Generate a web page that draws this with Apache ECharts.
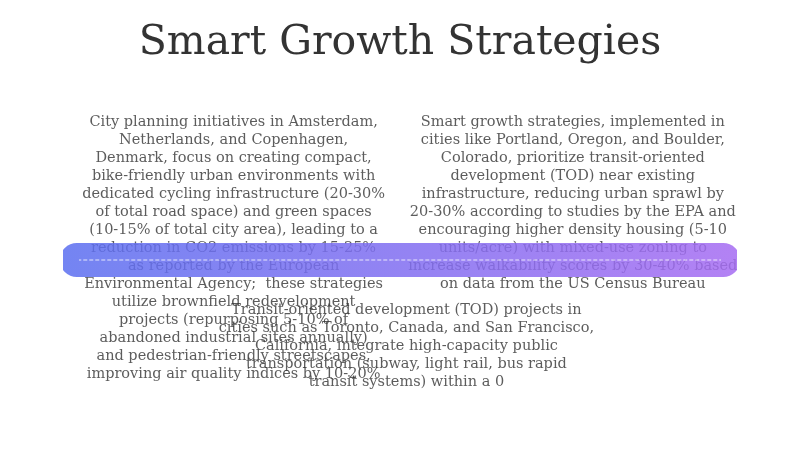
<!DOCTYPE html>
<html><head><meta charset="utf-8">
<script src="https://cdn.jsdelivr.net/npm/echarts@6/dist/echarts.min.js"></script>
<style>html,body{margin:0;padding:0;background:#fff}#c{width:800px;height:449px}</style>
</head><body><div id="c"></div>
<script>
const title = "Smart Growth Strategies";
const timelineRange = [0, 100];
const eventPositions = [24, 77, 51];
const eventSides = ["top", "top", "bottom"];
const eventTexts = [
"City planning initiatives in Amsterdam,\nNetherlands, and Copenhagen,\nDenmark, focus on creating compact,\nbike-friendly urban environments with\ndedicated cycling infrastructure (20-30%\nof total road space) and green spaces\n(10-15% of total city area), leading to a\nreduction in CO2 emissions by 15-25%\nas reported by the European\nEnvironmental Agency;  these strategies\nutilize brownfield redevelopment\nprojects (repurposing 5-10% of\nabandoned industrial sites annually)\nand pedestrian-friendly streetscapes,\nimproving air quality indices by 10-20%",
"Smart growth strategies, implemented in\ncities like Portland, Oregon, and Boulder,\nColorado, prioritize transit-oriented\ndevelopment (TOD) near existing\ninfrastructure, reducing urban sprawl by\n20-30% according to studies by the EPA and\nencouraging higher density housing (5-10\nunits/acre) with mixed-use zoning to\nincrease walkability scores by 30-40% based\non data from the US Census Bureau",
"Transit-oriented development (TOD) projects in\ncities such as Toronto, Canada, and San Francisco,\nCalifornia, integrate high-capacity public\ntransportation (subway, light rail, bus rapid\ntransit systems) within a 0"
];
const chart = echarts.init(document.getElementById('c'));
const font = "'DejaVu Serif', 'Liberation Serif', serif";
chart.setOption({
  title:{text:title,left:'center',top:18,textStyle:{fontFamily:font,fontWeight:'normal',fontSize:41,color:'#333'}},
  grid:{left:80,right:80,top:140,bottom:69},
  xAxis:{type:'value',min:timelineRange[0],max:timelineRange[1],show:false},
  yAxis:{type:'value',min:-1,max:1,show:false},
  series:[
    {type:'scatter',symbolSize:2,itemStyle:{color:'rgba(0,0,0,0)'},z:1,clip:false,
     data:eventPositions.map((x,i)=>({value:[x,0],label:{show:true,
       position:'inside',verticalAlign:'top',align:'center',
       offset:eventSides[i]==='top'?[0,-147]:[0,41],
       formatter:eventTexts[i],fontFamily:font,fontSize:14.5,lineHeight:18,color:'#333'}}))},
    {type:'line',z:5,symbol:'none',silent:true,clip:false,
     data:[[timelineRange[0]-0.5,0],[timelineRange[1]+0.5,0]],
     lineStyle:{width:34,cap:'round',opacity:0.85,
       color:new echarts.graphic.LinearGradient(0,0,1,0,[{offset:0,color:'#5b6ff0'},{offset:1,color:'#a66cf2'}])}},
    {type:'line',z:6,symbol:'none',silent:true,clip:false,
     data:[[timelineRange[0]-2.3,0],[timelineRange[1]+2.3,0]],
     lineStyle:{width:1,type:'dashed',color:'rgba(255,255,255,0.8)'}}
  ]
});
</script></body></html>
